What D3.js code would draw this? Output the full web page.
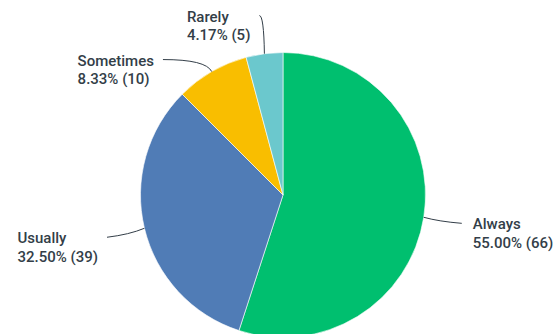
<!DOCTYPE html>
<html>
<head>
<meta charset="utf-8">
<script src="https://cdn.jsdelivr.net/npm/d3@7"></script>
<style>
  html, body { margin: 0; padding: 0; background: #fff; }
  svg { display: block; }
  text { font-family: Roboto, "Noto Sans", sans-serif; font-weight: 500; font-size: 15px; fill: #333e48; }
</style>
</head>
<body>
<svg id="chart" width="560" height="334"></svg>
<script>
const categories = ["Always", "Usually", "Sometimes", "Rarely"];
const counts = [66, 39, 10, 5];
const percents = ["55.00%", "32.50%", "8.33%", "4.17%"];
const colors = ["#00bf6f", "#507cb6", "#f9be00", "#6bc8cd"];

const W = 560, H = 334;
const cx = 283, cy = 195, R = 142.5, labelR = 181, minGap = 44;

const svg = d3.select("#chart");
const g = svg.append("g").attr("transform", `translate(${cx},${cy})`);

const data = categories.map((c, i) => ({ name: c, value: counts[i], pct: percents[i], color: colors[i] }));
const pie = d3.pie().sort(null).value(d => d.value);
const arcs = pie(data);
const arc = d3.arc().innerRadius(0).outerRadius(R);

g.selectAll("path.slice").data(arcs).enter().append("path")
  .attr("class", "slice")
  .attr("d", arc)
  .attr("fill", d => d.data.color)
  .attr("stroke", "#fff")
  .attr("stroke-width", 0.6);

// label layout
const polar = (a, r) => [r * Math.sin(a), -r * Math.cos(a)];
const labels = arcs.map(d => {
  const mid = (d.startAngle + d.endAngle) / 2;
  const edge = polar(mid, R);
  const end = polar(mid, labelR);
  return { d, mid, edge, end, right: Math.sin(mid) >= 0, moved: false };
});
[true, false].forEach(side => {
  const s = labels.filter(l => l.right === side).sort((a, b) => a.end[1] - b.end[1]);
  for (let i = 1; i < s.length; i++) {
    if (s[i].end[1] - s[i - 1].end[1] < minGap) {
      const y = s[i - 1].end[1] + minGap;
      const x = Math.sqrt(Math.max(0, labelR * labelR - y * y)) * (side ? 1 : -1);
      s[i].end = [x, y];
      s[i].moved = true;
    }
  }
});

labels.forEach(l => {
  const [ex, ey] = l.edge, [tx, ty] = l.end;
  const ctrl = l.moved || Math.abs(Math.cos(l.mid)) > 0.8
    ? [ex + (tx - ex) * 0.12, ty]
    : [ex + (tx - ex) * 0.4, ey + (ty - ey) * 0.7];
  g.append("path")
    .attr("d", `M${ex},${ey} Q${ctrl[0]},${ctrl[1]} ${tx},${ty}`)
    .attr("fill", "none")
    .attr("stroke", "#333e48")
    .attr("stroke-width", 1);
  const t = g.append("text").attr("text-anchor", "start").attr("y", ty + 6);
  const s1 = t.append("tspan").text(l.d.data.name);
  const s2 = t.append("tspan").attr("dy", 18.5).text(`${l.d.data.pct} (${l.d.data.value})`);
  const w = Math.max(s1.node().getComputedTextLength(), s2.node().getComputedTextLength());
  const x = l.right ? tx + 11 : tx - 9 - w;
  s1.attr("x", x);
  s2.attr("x", x);
});
</script>
</body>
</html>
